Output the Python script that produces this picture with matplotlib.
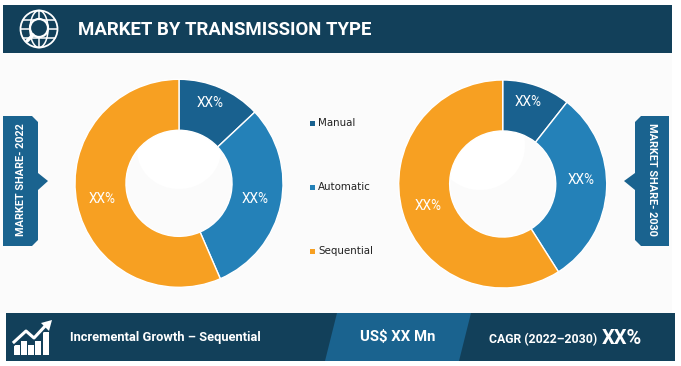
import matplotlib
matplotlib.use("Agg")
import matplotlib.pyplot as plt
from matplotlib.patches import Polygon, Rectangle, Circle, Ellipse

W, H = 681, 366

categories = ["Manual", "Automatic", "Sequential"]
share_2022 = [13.0, 30.5, 56.5]
share_2030 = [10.6, 30.4, 59.0]
slice_labels = ["XX%", "XX%", "XX%"]

title = "MARKET BY TRANSMISSION TYPE"
footer_left = "Incremental Growth \u2013 Sequential"
footer_mid = "US$ XX Mn"
footer_cagr = "CAGR (2022\u20132030)"
footer_val = "XX%"

DARK = "#12405a"
MID = "#1a638f"
colors = ["#19618f", "#2481b8", "#f7a022"]
font = "Roboto"

fig = plt.figure(figsize=(W / 100, H / 100), dpi=100, facecolor="white")
ax = fig.add_axes([0, 0, 1, 1])
ax.set_xlim(0, W)
ax.set_ylim(H, 0)
ax.axis("off")


def box(x, y, w, h, c, z=1):
    ax.add_patch(Rectangle((x, y), w, h, fc=c, ec="none", zorder=z))


def line(xs, ys, lw=1.3):
    ax.plot(xs, ys, color="white", lw=lw, solid_capstyle="round", zorder=4)


# background + bands
box(0, 53, 672, 260, "#fbfbfb", 0)
box(3, 5, 669, 48, DARK)
box(6, 313, 669, 48, DARK)
ax.add_patch(Polygon([[337, 313], [471, 313], [459, 361], [325, 361]], fc=MID, ec="none", zorder=2))

# globe icon
ax.add_patch(Circle((39, 29), 18.5, fc="none", ec="white", lw=1.3, zorder=4))
ax.add_patch(Ellipse((39, 29), 18, 37, fc="none", ec="white", lw=1.1, zorder=4))
line([39, 39], [11, 47], 1.1)
line([23, 55], [20, 20], 1.1)
line([21, 57], [29, 29], 1.1)
line([23, 55], [38, 38], 1.1)
ax.add_patch(Circle((39, 28), 9, fc=DARK, ec="white", lw=1.6, zorder=5))
ax.plot([33, 27], [35, 41], color="white", lw=2.5, solid_capstyle="round", zorder=5)

# growth icon
for bx, top in zip([14, 21, 28, 35, 43], [345, 341, 345, 341, 332]):
    box(bx, top, 5.5, 355 - top, "white", 4)
ax.plot([14, 26, 34, 47], [342, 331, 338, 324], color=DARK, lw=4.5, zorder=5)
ax.plot([14, 26, 34, 47], [342, 331, 338, 324], color="white", lw=2.2, zorder=6)
ax.add_patch(Polygon([[52, 320], [41, 323], [49, 331]], fc="white", ec="none", zorder=6))

# side tabs
ax.add_patch(Polygon([[3, 116], [32, 116], [38, 122], [38, 173], [48, 181], [38, 190],
                      [38, 240], [32, 246], [3, 246]], fc=MID, ec="none", zorder=2))
ax.add_patch(Polygon([[669, 116], [641, 116], [635, 122], [635, 173], [624, 181], [635, 190],
                      [635, 240], [641, 246], [669, 246]], fc=MID, ec="none", zorder=2))
ax.text(21, 180, "MARKET SHARE- 2022", color="white", fontsize=7.8, family=font,
        weight="bold", rotation=90, ha="center", va="center", zorder=5)
ax.text(652, 179, "MARKET SHARE- 2030", color="white", fontsize=7.8, family=font,
        weight="bold", rotation=270, ha="center", va="center", zorder=5)

# text in bands
ax.text(78, 30, title, color="white", fontsize=13.4, family=font, weight="bold",
        ha="left", va="center", zorder=5)
ax.text(70, 338, footer_left, color="white", fontsize=9.3, family=font, weight="bold",
        ha="left", va="center", zorder=5)
ax.text(398, 337, footer_mid, color="white", fontsize=10.7, family=font, weight="bold",
        ha="center", va="center", zorder=5)
ax.text(489, 340, footer_cagr, color="white", fontsize=8.8, family=font, weight="bold",
        ha="left", va="center", zorder=5)
ax.text(602, 338, footer_val, color="white", fontsize=14.5, family=font, weight="bold",
        ha="left", va="center", zorder=5)

# legend
for y, name, c in zip([123, 187, 251], categories, colors):
    box(310, y - 2.5, 5, 5, c, 3)
    ax.text(318, y, name, color="#222222", fontsize=7.4, family="DejaVu Sans",
            ha="left", va="center", zorder=3)

# faint highlight inside the holes
ax.add_patch(Ellipse((179, 150), 84, 78, fc="white", ec="none", zorder=3))
ax.add_patch(Circle((480, 145), 45, fc="white", ec="none", zorder=3))


def donut(cx, cy, r, values, label_px):
    # axes box in figure fractions, y flipped from pixel coords
    d = fig.add_axes([(cx - r) / W, 1 - (cy + r) / H, 2 * r / W, 2 * r / H])
    d.pie(values, colors=colors, startangle=90, counterclock=False, radius=1,
          wedgeprops=dict(width=0.49, ec="white", lw=1.0))
    d.set_xlim(-1, 1)
    d.set_ylim(-1, 1)
    d.patch.set_alpha(0)
    for lab, (px, py) in zip(slice_labels, label_px):
        d.text((px - cx) / r, (cy - py) / r, lab, color="white", fontsize=9.8,
               family=font, ha="center", va="center")


donut(179, 183.3, 104, share_2022, [(210, 103), (255, 199), (102, 199)])
donut(502.7, 184, 104, share_2030, [(528, 102), (581, 180), (428, 206)])

fig.savefig("out.png", dpi=100)
